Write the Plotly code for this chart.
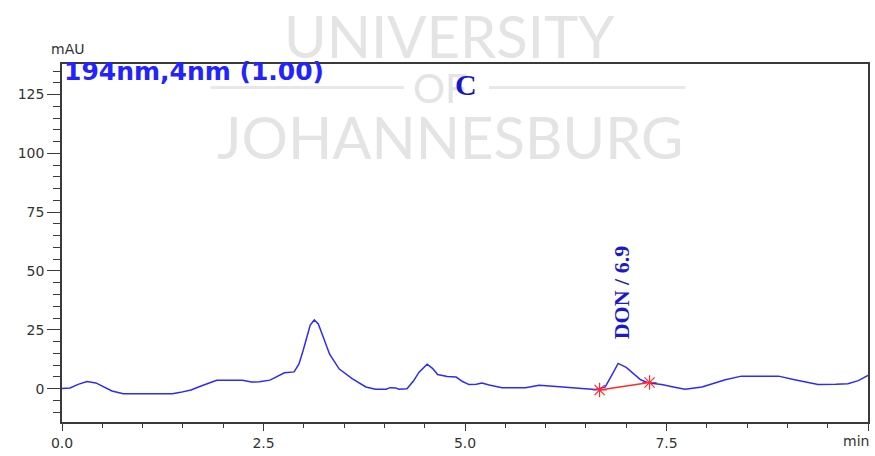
import plotly.graph_objects as go

# Chromatogram trace (retention time in min, absorbance in mAU)
TIME_MIN = [
    0.00, 0.10, 0.20, 0.31, 0.42, 0.52, 0.62, 0.76, 1.00, 1.37, 1.47, 1.60,
    1.75, 1.92, 2.10, 2.24, 2.35, 2.45, 2.58, 2.68, 2.76, 2.88, 2.94, 2.99,
    3.04, 3.08, 3.13, 3.18, 3.24, 3.32, 3.44, 3.60, 3.77, 3.89, 4.02, 4.07,
    4.14, 4.18, 4.28, 4.36, 4.43, 4.53, 4.60, 4.66, 4.78, 4.89, 4.97, 5.05,
    5.14, 5.21, 5.30, 5.46, 5.75, 5.92, 6.05, 6.25, 6.45, 6.62, 6.74, 6.82,
    6.90, 7.00, 7.10, 7.18, 7.28, 7.44, 7.60, 7.73, 7.94, 8.10, 8.23, 8.43,
    8.89, 9.09, 9.25, 9.38, 9.60, 9.75, 9.88, 10.00,
]
SIGNAL_MAU = [
    0.0, 0.3, 1.8, 3.0, 2.4, 0.6, -1.0, -2.2, -2.2, -2.2, -1.6, -0.6,
    1.4, 3.5, 3.5, 3.5, 2.8, 2.9, 3.6, 5.2, 6.7, 7.1, 10.5, 16.0,
    22.5, 27.0, 29.2, 27.5, 22.0, 14.6, 8.3, 4.2, 0.7, -0.3, -0.3, 0.4,
    0.3, -0.3, -0.1, 3.2, 7.0, 10.4, 8.5, 6.0, 5.1, 4.9, 3.0, 1.7,
    1.9, 2.4, 1.5, 0.4, 0.4, 1.4, 1.1, 0.4, 0.0, -0.4, 0.7, 5.6,
    10.7, 9.0, 6.0, 3.75, 2.4, 1.7, 0.6, -0.3, 0.7, 2.3, 3.75, 5.3,
    5.3, 3.75, 2.6, 1.7, 1.8, 2.1, 3.4, 5.6,
]

# Integration baseline under the DON peak
BASELINE_T = [6.67, 7.29]
BASELINE_Y = [-0.6, 2.6]

DON_RT = 6.9
DON_LABEL = "DON / 6.9"

X_TICKS = [0, 2.5, 5, 7.5, 10]
X_TICKTEXT = ["0.0", "2.5", "5.0", "7.5", ""]
X_UNIT = "min"
Y_TICKS = [0, 25, 50, 75, 100, 125]
Y_TICKTEXT = ["0", "25", "50", "75", "100", "125"]

fig = go.Figure()

fig.add_trace(go.Scatter(
    x=TIME_MIN, y=SIGNAL_MAU, mode="lines",
    line=dict(color="#2b2bff", width=1.5),
    hoverinfo="skip", showlegend=False,
))
fig.add_trace(go.Scatter(
    x=BASELINE_T, y=BASELINE_Y, mode="lines+markers",
    line=dict(color="#ff2a2a", width=1.5),
    marker=dict(symbol="asterisk-open", size=12,
                line=dict(color="#ff2a2a", width=1.2)),
    hoverinfo="skip", showlegend=False,
))

tick_font = dict(family="DejaVu Sans", size=14, color="#333333")
axis_line = "#3a3a3a"

fig.update_xaxes(
    range=[0, 10], tickvals=X_TICKS, ticktext=X_TICKTEXT,
    ticks="outside", ticklen=7, tickwidth=1, tickcolor=axis_line,
    minor=dict(dtick=0.5, ticks="outside", ticklen=4, tickcolor=axis_line, showgrid=False),
    showline=True, linecolor=axis_line, linewidth=1.5, mirror=True,
    showgrid=False, zeroline=False, tickfont=tick_font,
)
fig.update_yaxes(
    range=[-14.2, 138], tickvals=Y_TICKS, ticktext=Y_TICKTEXT,
    ticks="outside", ticklen=13, tickwidth=1, tickcolor=axis_line,
    minor=dict(dtick=5, ticks="outside", ticklen=7, tickcolor=axis_line, showgrid=False),
    showline=True, linecolor=axis_line, linewidth=1.5, mirror=True,
    showgrid=False, zeroline=False, tickfont=tick_font,
)

wm_color = "#e4e4e4"
wm_font = "Lato"

annotations = [
    # watermark
    dict(text="UNIVERSITY", xref="paper", yref="paper", x=0.481, y=(429 - 35) / 365,
         xanchor="center", yanchor="middle", showarrow=False,
         font=dict(family=wm_font, size=58, color=wm_color, weight=400)),
    dict(text="OF", xref="paper", yref="paper", x=0.47, y=(429 - 88) / 365,
         xanchor="center", yanchor="middle", showarrow=False,
         font=dict(family=wm_font, size=40, color=wm_color, weight=400)),
    dict(text="JOHANNESBURG", xref="paper", yref="paper", x=0.481, y=(429 - 138) / 365,
         xanchor="center", yanchor="middle", showarrow=False,
         font=dict(family=wm_font, size=58, color=wm_color, weight=400)),
    # axis units
    dict(text="mAU", xref="paper", yref="paper", x=-0.016, y=(429 - 49) / 365,
         xanchor="left", yanchor="middle", showarrow=False,
         font=dict(family="DejaVu Sans", size=14, color="#333333")),
    dict(text=X_UNIT, xref="x", yref="paper", x=10, y=0, yshift=-9,
         xanchor="right", yanchor="top", showarrow=False, xshift=3,
         font=dict(family="DejaVu Sans", size=14, color="#333333")),
    # detector channel
    dict(text="<b>194nm,4nm (1.00)</b>", xref="paper", yref="paper", x=0.0, y=(429 - 72) / 365,
         xanchor="left", yanchor="middle", showarrow=False,
         font=dict(family="DejaVu Sans", size=25, color="#2323ff")),
    # panel letter
    dict(text="<b>C</b>", xref="paper", yref="paper", x=0.501, y=(429 - 85) / 365,
         xanchor="center", yanchor="middle", showarrow=False,
         font=dict(family="Liberation Serif", size=30, color="#1616c8")),
    # peak label
    dict(text="<b>" + DON_LABEL + "</b>", x=DON_RT, y=41, xref="x", yref="y",
         xanchor="center", yanchor="middle", textangle=-90, showarrow=False, xshift=3,
         font=dict(family="Liberation Serif", size=22, color="#1a1acc")),
]

# rules either side of "OF"
wm_line_y = (429 - 88) / 365
shapes = [
    dict(type="line", xref="paper", yref="paper", x0=(211 - 62) / 808, x1=(405 - 62) / 808,
         y0=wm_line_y, y1=wm_line_y, line=dict(color="#e8e8e8", width=3), layer="below"),
    dict(type="line", xref="paper", yref="paper", x0=(490 - 62) / 808, x1=(687 - 62) / 808,
         y0=wm_line_y, y1=wm_line_y, line=dict(color="#e8e8e8", width=3), layer="below"),
]

fig.update_layout(
    width=875, height=456,
    margin=dict(l=62, r=5, t=64, b=27),
    paper_bgcolor="white", plot_bgcolor="white",
    annotations=annotations, shapes=shapes,
)

fig.write_html("out.html")
